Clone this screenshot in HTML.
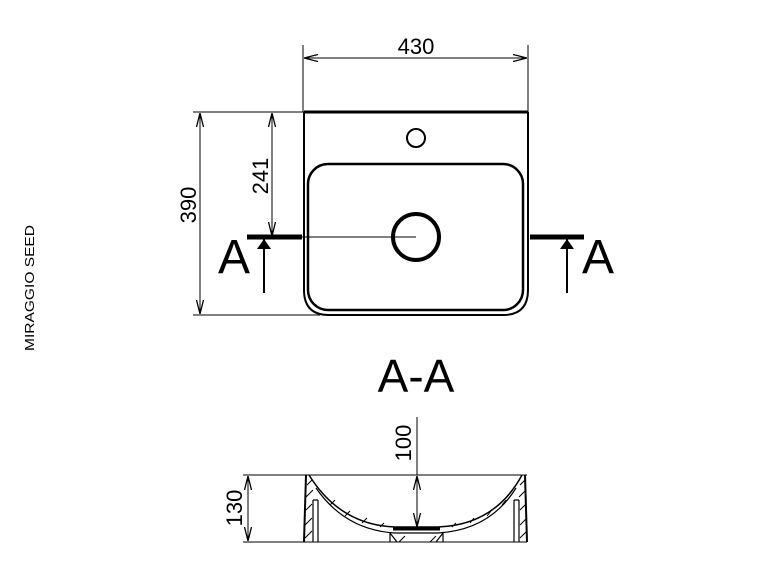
<!DOCTYPE html>
<html><head><meta charset="utf-8"><style>
html,body{margin:0;padding:0;background:#fff;}
svg{display:block;font-family:"Liberation Sans",Arial,sans-serif;}
</style></head><body>
<svg width="770" height="578" viewBox="0 0 770 578" xmlns="http://www.w3.org/2000/svg">
<defs>
<marker id="ar" viewBox="0 0 14 8" refX="14" refY="4" markerWidth="14" markerHeight="8" orient="auto-start-reverse" markerUnits="userSpaceOnUse"><path d="M0,0.5 L14,4 L0,7.5" fill="none" stroke="#000" stroke-width="1.3"/></marker>
<marker id="af" viewBox="0 0 10 14" refX="10" refY="7" markerWidth="10" markerHeight="14" orient="auto" markerUnits="userSpaceOnUse"><path d="M0,0 L10,7 L0,14 Z" fill="#000"/></marker>
</defs>
<g stroke="#000" fill="none">
<line x1="303" y1="45" x2="303" y2="112" stroke-width="1"/>
<line x1="528" y1="45" x2="528" y2="112" stroke-width="1"/>
<line x1="304" y1="58" x2="527" y2="58" stroke-width="1" marker-start="url(#ar)" marker-end="url(#ar)"/>
<line x1="193" y1="112" x2="304" y2="112" stroke-width="1"/>
<line x1="193" y1="315" x2="320" y2="315" stroke-width="1"/>
<line x1="200" y1="113" x2="200" y2="314" stroke-width="1" marker-start="url(#ar)" marker-end="url(#ar)"/>
<line x1="272" y1="113" x2="272" y2="236" stroke-width="1" marker-start="url(#ar)" marker-end="url(#ar)"/>
<path d="M304,112 L528,112" stroke-width="3"/>
<path d="M304,112 L304,290 Q304,315 329,315 L503,315 Q528,315 528,290 L528,112" stroke-width="2"/>
<rect x="308" y="164" width="215" height="146" rx="20" stroke-width="2.5"/>
<circle cx="416" cy="138" r="9" stroke-width="2"/>
<circle cx="416" cy="237" r="23" stroke-width="4"/>
<line x1="247" y1="237" x2="302" y2="237" stroke-width="5"/>
<line x1="302" y1="237" x2="416" y2="237" stroke-width="1"/>
<line x1="530" y1="237" x2="584" y2="237" stroke-width="5"/>
<line x1="264" y1="293" x2="264" y2="239" stroke-width="2" marker-end="url(#af)"/>
<line x1="567" y1="293" x2="567" y2="239" stroke-width="2" marker-end="url(#af)"/>
<line x1="243" y1="475" x2="527" y2="475" stroke-width="1"/>
<line x1="243" y1="542" x2="527" y2="542" stroke-width="1"/>
<line x1="248" y1="476" x2="248" y2="541" stroke-width="1" marker-start="url(#ar)" marker-end="url(#ar)"/>
<line x1="417" y1="417" x2="417" y2="475" stroke-width="1"/>
<line x1="417" y1="476" x2="417" y2="527" stroke-width="1" marker-start="url(#ar)" marker-end="url(#ar)"/>
<path d="M306,475 L304,542 M525,475 L527,542" stroke-width="2"/>
<path d="M309,475 Q340,525 395,527 L438,527 Q495,525 522,475" stroke-width="1.5"/>
<path d="M316,488 Q345,530 395,533 L438,533 Q490,530 516,488" stroke-width="1.2"/>
<path d="M313,500 L313,542 M318,500 L318,542 M313,500 L318,500" stroke-width="1.2"/>
<path d="M514,500 L514,542 M519,500 L519,542 M514,500 L519,500" stroke-width="1.2"/>
<path d="M390,533 L397,542 M443,533 L436,542 M390,533 L390,542 M443,533 L443,542" stroke-width="1.2"/>
<line x1="393" y1="529" x2="440" y2="529" stroke-width="3"/>
<g stroke-width="1">
<path d="M307,485 L312,480 M306,497 L313,490 M306,510 L312,504 M305,525 L312,518 M305,538 L312,531"/>
<path d="M520,485 L525,480 M519,497 L526,490 M520,510 L526,504 M520,525 L527,518 M520,538 L527,531"/>
<path d="M330,505 L335,500 M345,516 L350,511 M362,523 L367,518 M380,527 L384,523 M452,527 L456,523 M470,523 L474,518 M487,516 L491,511 M502,505 L506,500"/>
<path d="M399,542 L405,536 M430,542 L436,536"/>
</g>
</g>
<g fill="#000">
<text x="416" y="54" font-size="22" text-anchor="middle">430</text>
<text transform="translate(196,205) rotate(-90)" font-size="22" text-anchor="middle">390</text>
<text transform="translate(268,176) rotate(-90)" font-size="22" text-anchor="middle">241</text>
<text x="234" y="273" font-size="48" text-anchor="middle">A</text>
<text x="598" y="273" font-size="48" text-anchor="middle">A</text>
<text x="416" y="392" font-size="46" text-anchor="middle">A-A</text>
<text transform="translate(242,508) rotate(-90)" font-size="22" text-anchor="middle">130</text>
<text transform="translate(411,443) rotate(-90)" font-size="22" text-anchor="middle">100</text>
<text transform="translate(34,288) rotate(-90)" font-size="13" text-anchor="middle" textLength="126" lengthAdjust="spacingAndGlyphs">MIRAGGIO SEED</text>
</g>
</svg>
</body></html>
